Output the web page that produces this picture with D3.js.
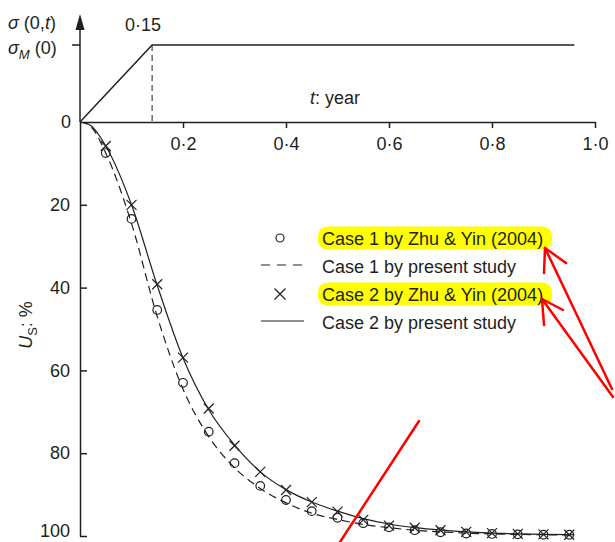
<!DOCTYPE html>
<html>
<head>
<meta charset="utf-8">
<script src="https://cdn.jsdelivr.net/npm/d3@7.9.0/dist/d3.min.js"></script>
<style>
body { margin: 0; background: #fff; }
svg { display: block; font-family: "Liberation Sans", Arial, sans-serif; }
</style>
</head>
<body>
<svg width="615" height="542"></svg>
<script>
// measured points (Zhu & Yin 2004)
const times = [0.05, 0.1, 0.15, 0.2, 0.25, 0.3, 0.35, 0.4, 0.45, 0.5,
  0.55, 0.6, 0.65, 0.7, 0.75, 0.8, 0.85, 0.9, 0.95];
const case1Zhu = [7.5, 23.4, 45.4, 63, 74.8, 82.4, 87.9, 91.3, 94, 95.6,
  96.9, 97.9, 98.6, 99.1, 99.4, 99.5, 99.6, 99.7, 99.7];
const case2Zhu = [5.8, 20, 39.2, 56.9, 69.2, 78.2, 84.5, 88.9, 91.8, 94.1,
  96.1, 97.5, 98, 98.6, 99, 99.3, 99.5, 99.6, 99.7];

// present study curves
const curveTimes = [0, 0.02, 0.05, 0.1, 0.15, 0.2, 0.25, 0.3, 0.35, 0.4, 0.45,
  0.5, 0.55, 0.6, 0.65, 0.7, 0.75, 0.8, 0.85, 0.9, 0.96];
const case1Present = [0, 1, 7.5, 24.5, 47, 64.5, 76, 83.5, 88.5, 92, 94.5,
  96, 97.2, 98, 98.6, 99, 99.3, 99.5, 99.6, 99.7, 99.8];
const case2Present = [0, 0.8, 5.8, 20, 39.5, 57, 69.5, 78, 84.5, 88.8, 91.8,
  94, 95.8, 97.1, 98, 98.6, 99, 99.3, 99.5, 99.6, 99.7];

// loading history sigma(0,t)/sigma_M(0)
const loadTimes = [0, 0.14, 0.96];
const loadValues = [0, 1, 1];

const xTicks = [0.2, 0.4, 0.6, 0.8, 1.0];
const yTicks = [20, 40, 60, 80, 100];

const ink = '#231f20';
const svg = d3.select('svg');

let x = d3.scaleLinear().domain([0, 1]).range([80, 595]);
let y = d3.scaleLinear().domain([0, 100]).range([122, 536]);
let ys = d3.scaleLinear().domain([0, 1]).range([122, 45]);

const fmt = (d) => d3.format('.1f')(d).replace('.', '\u00b7');

// x axis (time), ticks hang down into the lower plot
let xAxis = svg.append('g')
  .attr('transform', `translate(0,${y(0)})`)
  .call(d3.axisBottom(x).tickValues(xTicks).tickSizeInner(6).tickSizeOuter(0)
    .tickPadding(9).tickFormat(fmt));

// lower y axis, ticks pointing inward
let yAxis = svg.append('g')
  .attr('transform', `translate(${x(0)},0)`)
  .call(d3.axisLeft(y).tickValues(yTicks).tickSizeInner(-7).tickSizeOuter(0)
    .tickPadding(10));

[xAxis, yAxis].forEach((g) => {
  g.attr('font-size', null).attr('font-family', null);
  g.selectAll('path, line').attr('stroke', ink).attr('stroke-width', 1.5);
  g.selectAll('text').attr('fill', ink).style('font-size', '18px');
});
// keep the bottom label inside the frame
yAxis.selectAll('text').filter((d) => d === 100).attr('dy', '0.05em');

// upper part of vertical axis with arrow
svg.append('line')
  .attr('x1', x(0)).attr('x2', x(0))
  .attr('y1', 26).attr('y2', y(0))
  .attr('stroke', ink).attr('stroke-width', 1.5);
svg.append('path')
  .attr('d', `M${x(0)},14 L${x(0) - 4.5},30 L${x(0) + 4.5},30 Z`)
  .attr('fill', ink);
svg.append('line')
  .attr('x1', x(0) - 8).attr('x2', x(0))
  .attr('y1', ys(1)).attr('y2', ys(1))
  .attr('stroke', ink).attr('stroke-width', 1.5);

// loading line
let loadLine = d3.line().x((d, i) => x(loadTimes[i])).y((d) => ys(d));
svg.append('path')
  .attr('d', loadLine(loadValues))
  .attr('fill', 'none').attr('stroke', ink).attr('stroke-width', 1.5);
svg.append('line')
  .attr('x1', x(loadTimes[1])).attr('x2', x(loadTimes[1]))
  .attr('y1', ys(1)).attr('y2', ys(0))
  .attr('stroke', ink).attr('stroke-width', 1)
  .attr('stroke-dasharray', '6,4');

// labels of the top part
function txt(xp, yp, anchor) {
  return svg.append('text').attr('x', xp).attr('y', yp)
    .attr('text-anchor', anchor || 'start')
    .attr('fill', ink).style('font-size', '18px');
}
let s1 = txt(8, 29);
s1.append('tspan').attr('font-style', 'italic').text('\u03c3');
s1.append('tspan').text(' (0,');
s1.append('tspan').attr('font-style', 'italic').text('t');
s1.append('tspan').text(')');
let s2 = txt(8, 54);
s2.append('tspan').attr('font-style', 'italic').text('\u03c3');
s2.append('tspan').attr('font-style', 'italic').style('font-size', '13px')
  .attr('dy', 5).text('M');
s2.append('tspan').attr('dy', -5).text(' (0)');
txt(71, 128, 'end').text('0');
txt(143, 31, 'middle').text('0\u00b715');
let tl = txt(310, 104);
tl.append('tspan').attr('font-style', 'italic').text('t');
tl.append('tspan').text(': year');

// y label
let yl = svg.append('text')
  .attr('transform', 'translate(32,325) rotate(-90)')
  .attr('text-anchor', 'middle').attr('fill', ink).style('font-size', '18px');
yl.append('tspan').attr('font-style', 'italic').text('U');
yl.append('tspan').style('font-size', '13px').attr('dy', 5).text('S');
yl.append('tspan').attr('dy', -5).text(': %');

// curves
let curve = d3.line()
  .x((d, i) => x(curveTimes[i]))
  .y((d) => y(d))
  .curve(d3.curveMonotoneX);
svg.append('path')
  .attr('d', curve(case1Present))
  .attr('fill', 'none').attr('stroke', ink).attr('stroke-width', 1.2)
  .attr('stroke-dasharray', '8,5');
svg.append('path')
  .attr('d', curve(case2Present))
  .attr('fill', 'none').attr('stroke', ink).attr('stroke-width', 1.2);

// markers
svg.append('g').selectAll('circle')
  .data(case1Zhu).join('circle')
  .attr('cx', (d, i) => x(times[i])).attr('cy', (d) => y(d))
  .attr('r', 4.3).attr('fill', 'none').attr('stroke', ink).attr('stroke-width', 1.2);

const crossPath = (cx, cy, s) =>
  `M${cx - s},${cy - s}L${cx + s},${cy + s}M${cx - s},${cy + s}L${cx + s},${cy - s}`;
svg.append('g').selectAll('path')
  .data(case2Zhu).join('path')
  .attr('d', (d, i) => crossPath(x(times[i]), y(d), 5))
  .attr('fill', 'none').attr('stroke', ink).attr('stroke-width', 1.2);

// legend
const legendRows = [
  { label: 'Case 1 by Zhu & Yin (2004)', kind: 'circle', hl: true },
  { label: 'Case 1 by present study', kind: 'dash', hl: false },
  { label: 'Case 2 by Zhu & Yin (2004)', kind: 'cross', hl: true },
  { label: 'Case 2 by present study', kind: 'solid', hl: false }
];
let legend = svg.append('g');
legendRows.forEach((r, i) => {
  let base = 245 + i * 28;
  let mid = base - 6;
  if (r.hl) {
    legend.append('rect')
      .attr('x', 318).attr('y', base - 18.5).attr('width', 234).attr('height', 23)
      .attr('rx', 9).attr('fill', '#ffff00');
  }
  if (r.kind === 'circle') {
    legend.append('circle').attr('cx', 280).attr('cy', mid - 1).attr('r', 4)
      .attr('fill', 'none').attr('stroke', ink).attr('stroke-width', 1.2);
  } else if (r.kind === 'cross') {
    legend.append('path').attr('d', crossPath(280, mid - 1, 5.5))
      .attr('stroke', ink).attr('stroke-width', 1.2);
  } else {
    legend.append('line')
      .attr('x1', 261).attr('x2', 304).attr('y1', mid - 2).attr('y2', mid - 2)
      .attr('stroke', ink).attr('stroke-width', 1.2)
      .attr('stroke-dasharray', r.kind === 'dash' ? '9,7' : null);
  }
  legend.append('text').attr('x', 322).attr('y', base)
    .attr('fill', ink).style('font-size', '18px').text(r.label);
});

// red annotation strokes
const redStrokes = [
  [[612, 389], [545, 248]], [[545, 248], [566, 263]], [[545, 248], [544, 273]],
  [[613, 397], [542, 299]], [[542, 299], [563, 310]], [[542, 299], [544, 325]],
  [[419, 421], [340, 542]]
];
svg.append('g').selectAll('line')
  .data(redStrokes).join('line')
  .attr('x1', (d) => d[0][0]).attr('y1', (d) => d[0][1])
  .attr('x2', (d) => d[1][0]).attr('y2', (d) => d[1][1])
  .attr('stroke', '#ff0000').attr('stroke-width', 2.5).attr('stroke-linecap', 'round');
</script>
</body>
</html>
